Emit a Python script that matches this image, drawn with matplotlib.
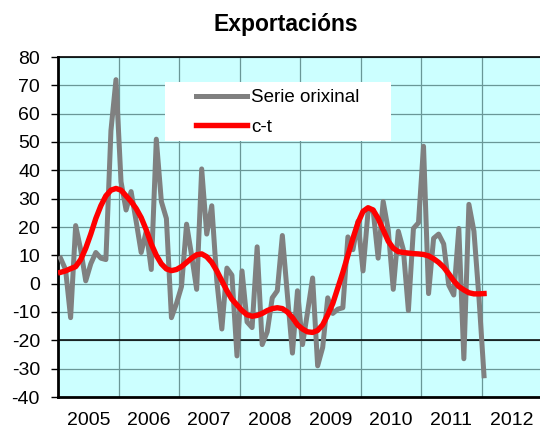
import matplotlib
matplotlib.use("Agg")
import matplotlib.pyplot as plt
from matplotlib.patches import Rectangle
import numpy as np

plt.rcParams['font.family'] = ['Liberation Sans', 'DejaVu Sans']

title = "Exportacións"
series_names = ["Serie orixinal", "c-t"]
year_labels = ["2005", "2006", "2007", "2008", "2009", "2010", "2011", "2012"]

# monthly values, Jan 2005 .. Jan 2012
serie_orixinal = [
    9, 5, -12, 20.5, 12, 1, 7, 11, 9, 8.5, 54, 72,
    36, 26, 32.5, 22, 11, 18.5, 5, 51, 29, 23, -12, -7,
    -1, 21, 10, -2, 40.5, 17.5, 27.5, 1, -16, 5.5, 3, -25.5,
    4.5, -13.5, -15.5, 13, -21.5, -17, -5, -2.5, 17, -4, -24.5, -2.5,
    -21.5, -10, 2, -29, -22.5, -5, -10.5, -9, -8.5, 16.5, 12, 22,
    4.5, 25.5, 26, 9, 29, 19, -2, 18.5, 12, -9.5, 19.5, 21.5,
    48.5, -3.5, 16, 17.5, 14, -0.5, -4, 19.5, -26.5, 28, 18.5, -5,
    -32.5,
]
ciclo_tendencia = [
    4.0, 4.5, 5.3, 6.0, 8.5, 12.5, 17.5, 23.0, 27.5, 31.0, 33.0, 33.6,
    33.0, 31.0, 29.0, 26.5, 23.3, 19.0, 14.0, 10.0, 7.0, 5.2, 4.6, 5.0,
    6.0, 7.5, 9.0, 10.2, 10.5, 9.5, 7.5, 4.5, 1.0, -2.5, -5.5, -7.5,
    -9.5, -11.0, -11.5, -11.2, -10.5, -9.5, -8.8, -8.5, -8.8, -10.0, -12.0, -14.5,
    -16.0, -17.0, -17.2, -16.5, -14.5, -11.0, -7.0, -1.5, 4.0, 10.0, 16.0, 21.5,
    25.5, 26.8, 26.0, 23.0, 19.0, 15.0, 12.5, 11.3, 11.0, 10.8, 10.6, 10.5,
    10.3, 9.8, 8.8, 7.5, 5.8, 3.5, 1.0, -1.0, -2.2, -3.2, -3.6, -3.6,
    -3.5,
]

W, H = 540, 428
fig = plt.figure(figsize=(W / 100, H / 100), dpi=100)
fig.patch.set_facecolor('white')
left, right, top, bottom = 58, 540, 57, 397
ax = fig.add_axes([left / W, (H - bottom) / H, (right - left) / W, (bottom - top) / H])
ax.set_facecolor('#CCFFFF')

x = np.arange(len(serie_orixinal)) + 0.5
month_px = 60.5 / 12
ax.set_xlim(0, (right - left) / month_px)
ax.set_ylim(-40, 80)

grid_c = '#6a9797'
for yv in range(-30, 81, 10):
    ax.axhline(yv, color=grid_c, lw=0.9, zorder=1)
ax.axhline(-20, color='black', lw=1.1, zorder=1.5)
for k in range(1, len(year_labels)):
    ax.axvline(12 * k, color=grid_c, lw=0.9, zorder=1)

l1, = ax.plot(x, serie_orixinal, color='#808080', lw=3.6, solid_joinstyle='round', zorder=3)
l2, = ax.plot(x, ciclo_tendencia, color='#FF0000', lw=3.9, solid_joinstyle='round', zorder=4)

ax.set_yticks(range(-40, 81, 10))
ax.set_yticklabels([str(v) for v in range(-40, 81, 10)], fontsize=14)
ax.tick_params(axis='y', length=5, width=1, direction='out', pad=8)
ax.set_xticks([12 * k + 6 for k in range(len(year_labels))])
ax.set_xticklabels(year_labels, fontsize=14)
ax.tick_params(axis='x', length=0, pad=11)

for s in ['left', 'bottom']:
    ax.spines[s].set_linewidth(2)
    ax.spines[s].set_color('black')
ax.spines['top'].set_linewidth(1.2)
ax.spines['top'].set_color('black')
ax.spines['right'].set_visible(False)

# white legend box
box = Rectangle((165 / W, 1 - 141 / H), (391 - 165) / W, (141 - 82) / H,
                transform=fig.transFigure, facecolor='white', edgecolor='none',
                zorder=9, clip_on=False)
ax.add_patch(box)

leg = ax.legend([l1, l2], series_names, loc='upper left',
                bbox_to_anchor=(196 / W, 1 - 89 / H), bbox_transform=fig.transFigure,
                frameon=False, fontsize=13.5, handlelength=2.72, handletextpad=0.22,
                borderpad=0, labelspacing=0.66, borderaxespad=0)
leg.set_zorder(10)

fig.text(286 / W, 1 - 31 / H, title, ha='center', va='baseline', fontsize=16.5, fontweight='bold')

fig.savefig('out.png', dpi=100)
